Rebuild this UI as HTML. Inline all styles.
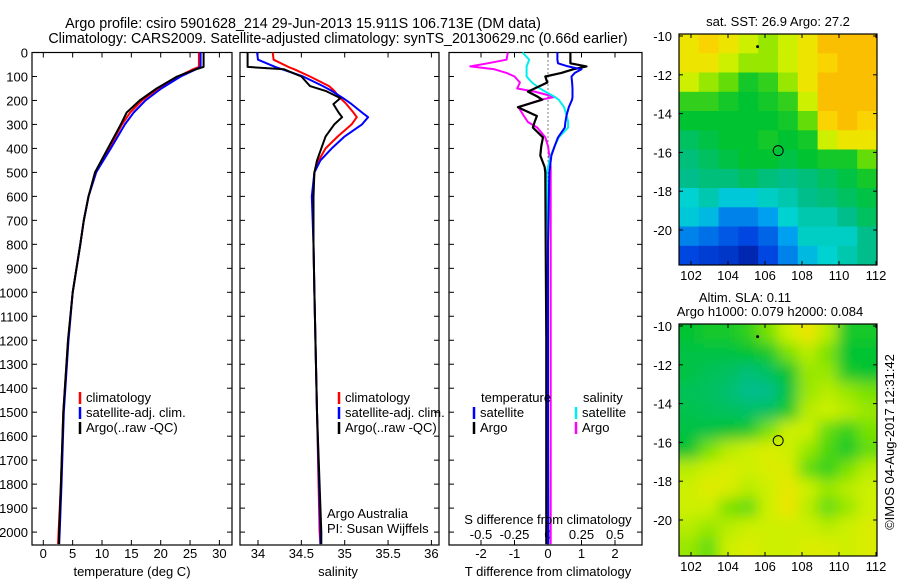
<!DOCTYPE html>
<html><head><meta charset="utf-8"><style>
body{margin:0;background:#fff;}
svg{display:block;font-family:"Liberation Sans",sans-serif;}
text{font-size:13px;fill:#000;}
</style></head><body>
<svg id="c" width="900" height="580">
<defs>
<clipPath id="clipA"><rect x="679" y="34" width="198" height="231"/></clipPath>
<clipPath id="clipB"><rect x="679" y="324" width="198" height="232"/></clipPath>
<filter id="blur"><feGaussianBlur stdDeviation="7"/></filter>
</defs>
<g>
<text x="303" y="28" text-anchor="middle" style="font-size:14.3px">Argo profile: csiro 5901628_214 29-Jun-2013 15.911S 106.713E (DM data)</text>
<text x="338" y="43" text-anchor="middle" style="font-size:14.3px">Climatology: CARS2009. Satellite-adjusted climatology: synTS_20130629.nc (0.66d earlier)</text>
</g>
</svg>
<script>
const depthT=[0,60,70,100,150,200,250,300,400,500,600,700,800,1000,1200,1500,1800,2000,2050];
const tempClim=[26.5,26.5,25.5,23.0,19.6,16.8,14.8,13.4,11.2,9.0,7.7,6.9,6.3,5.0,4.2,3.4,3.0,2.6,2.5];
const tempSat=[26.8,26.8,26.0,23.4,20.1,17.4,15.4,13.9,11.5,9.0,7.7,6.9,6.3,5.0,4.3,3.5,3.1,2.8,2.7];
const tempArgo=[27.3,27.3,26.0,22.8,19.3,16.4,14.2,13.2,11.0,8.8,7.7,6.9,6.3,5.0,4.2,3.4,3.0,2.7,2.7];
const depthS=[0,30,60,70,100,140,160,190,215,250,270,300,350,400,450,500,600,800,1000,1500,2000,2050];
const salClim=[34.17,34.18,34.35,34.42,34.6,34.82,34.88,34.95,35.02,35.1,35.14,35.08,34.92,34.78,34.7,34.65,34.63,34.64,34.65,34.68,34.71,34.72];
const salSat=[33.99,34.0,34.2,34.28,34.52,34.75,34.85,34.98,35.08,35.2,35.27,35.2,35.0,34.85,34.72,34.65,34.62,34.64,34.65,34.68,34.72,34.72];
const salArgo=[33.88,33.88,33.88,34.3,34.5,34.6,34.78,34.95,34.87,34.93,34.97,34.88,34.78,34.73,34.68,34.65,34.64,34.64,34.65,34.68,34.73,34.73];
const depthD=[0,30,45,58,70,85,100,125,150,163,185,197,228,265,290,313,354,390,430,477,500,800,1200,1600,2000,2050];
const dTsat=[0.28,0.28,0.3,0.6,1.0,0.8,0.7,0.72,0.73,0.73,0.73,0.72,0.62,0.55,0.52,0.5,0.3,0.2,0.1,0.06,0.04,0.0,0.0,0.0,0.01,0.01];
const dTargo=[0.67,0.67,0.67,1.15,0.75,0.4,-0.08,-0.02,-0.4,-0.6,-0.3,-0.17,-0.9,-0.33,-0.4,-0.45,-0.15,-0.2,-0.23,-0.1,-0.08,-0.07,-0.05,-0.05,-0.05,-0.05];
const dSsat=[-0.19,-0.14,-0.15,-0.16,-0.16,-0.16,-0.16,-0.12,-0.06,-0.02,0.05,0.08,0.12,0.14,0.15,0.15,0.08,0.05,0.02,0.0,-0.01,0.0,0.0,0.0,0.0,0.0];
const dSargo=[-0.30,-0.31,-0.45,-0.58,-0.4,-0.31,-0.25,-0.21,-0.23,-0.1,0.05,-0.05,-0.22,-0.18,-0.15,-0.08,-0.02,0.0,0.01,0.02,0.02,0.02,0.02,0.02,0.02,0.02];
const depthTicks=[0,100,200,300,400,500,600,700,800,900,1000,1100,1200,1300,1400,1500,1600,1700,1800,1900,2000];
const tTicks=[0,5,10,15,20,25,30];
const sTicks=[34,34.5,35,35.5,36];
const dTTicks=[-2,-1,0,1,2];
const dSTicks=[-0.5,-0.25,0,0.25,0.5];
const lonTicks=[102,104,106,108,110,112];
const latTicks=[-10,-12,-14,-16,-18,-20];
const sstGrid=[
[0.85,0.9,0.85,0.8,0.75,0.8,0.85,0.95,0.95,0.95],
[0.85,0.85,0.8,0.75,0.75,0.8,0.85,0.9,0.95,0.95],
[0.8,0.75,0.7,0.62,0.65,0.75,0.85,0.95,0.95,0.95],
[0.65,0.65,0.62,0.6,0.62,0.65,0.8,0.95,0.95,0.95],
[0.6,0.6,0.6,0.6,0.6,0.62,0.7,0.9,0.95,0.9],
[0.55,0.58,0.6,0.6,0.62,0.6,0.62,0.8,0.85,0.85],
[0.52,0.55,0.58,0.6,0.6,0.58,0.6,0.62,0.62,0.7],
[0.5,0.52,0.52,0.55,0.52,0.5,0.52,0.55,0.58,0.62],
[0.4,0.45,0.38,0.38,0.42,0.45,0.5,0.52,0.55,0.58],
[0.38,0.35,0.25,0.25,0.3,0.4,0.45,0.45,0.5,0.55],
[0.25,0.22,0.18,0.15,0.2,0.3,0.42,0.42,0.42,0.5],
[0.15,0.12,0.1,0.05,0.15,0.25,0.35,0.4,0.45,0.5]];
const slaGrid=[
[0.6,0.62,0.62,0.65,0.72,0.8,0.85,0.78,0.62,0.62],
[0.58,0.58,0.58,0.6,0.62,0.72,0.78,0.72,0.6,0.6],
[0.58,0.56,0.55,0.52,0.55,0.6,0.75,0.75,0.62,0.6],
[0.56,0.55,0.53,0.5,0.5,0.58,0.75,0.78,0.75,0.72],
[0.57,0.56,0.55,0.54,0.55,0.62,0.78,0.8,0.78,0.75],
[0.58,0.58,0.6,0.62,0.72,0.8,0.8,0.7,0.65,0.72],
[0.6,0.72,0.78,0.8,0.82,0.8,0.75,0.68,0.62,0.7],
[0.78,0.8,0.82,0.8,0.82,0.82,0.7,0.65,0.72,0.78],
[0.8,0.83,0.82,0.78,0.8,0.84,0.8,0.75,0.78,0.8],
[0.8,0.8,0.72,0.7,0.8,0.85,0.78,0.7,0.75,0.8],
[0.78,0.75,0.78,0.8,0.8,0.8,0.8,0.78,0.8,0.82],
[0.75,0.7,0.8,0.82,0.8,0.8,0.82,0.82,0.8,0.82]];
const floatLon=106.713, floatLat=-15.911;

const svg=document.getElementById('c');
const NS='http://www.w3.org/2000/svg';
function mk(tag,attrs,parent){const e=document.createElementNS(NS,tag);for(const k in attrs)e.setAttribute(k,attrs[k]);(parent||svg).appendChild(e);return e;}
function txt(x,y,s,anchor,parent,extra){const t=mk('text',Object.assign({x:x,y:y,'text-anchor':anchor||'middle'},extra||{}),parent);t.textContent=s;return t;}
const yD=d=>52.5+d*0.2398;
const plotTop=52.5,bot=545;
const xT=v=>43.3+v*5.87;
const xS=v=>258+(v-34)*86.7;
const xDT=v=>548+v*33.5;
const xDS=v=>548+v*134;

function frame(x0,x1,name){
  const r=mk('rect',{x:x0,y:plotTop,width:x1-x0,height:bot-plotTop,fill:'none',stroke:'#000','stroke-width':1.2});
  
  
  const g=mk('g',{});
  depthTicks.forEach(d=>{mk('line',{x1:x0,x2:x0+5,y1:yD(d),y2:yD(d),stroke:'#000'},g);mk('line',{x1:x1,x2:x1-5,y1:yD(d),y2:yD(d),stroke:'#000'},g);});
  return g;
}
function line(xs,ds,xf,color,name,w,dash){
  const pts=ds.map((d,i)=>xf(xs[i]).toFixed(1)+','+yD(d).toFixed(1)).join(' ');
  const p=mk('polyline',{points:pts,fill:'none',stroke:color,'stroke-width':w||2,'stroke-linejoin':'round'});
  if(dash)p.setAttribute('stroke-dasharray',dash);
  
  
}
function xticks(ticks,xf,y){
  ticks.forEach(v=>{mk('line',{x1:xf(v),x2:xf(v),y1:bot,y2:bot-5,stroke:'#000'});mk('line',{x1:xf(v),x2:xf(v),y1:plotTop,y2:plotTop+5,stroke:'#000'});
    const t=txt(xf(v),y,String(v));
    
    });
}
function legend(x,y,items){
  items.forEach((it,i)=>{mk('line',{x1:x,x2:x,y1:y+i*15-10,y2:y+i*15+2,stroke:it[0],'stroke-width':2.5});
    const t=txt(x+6,y+i*15,it[1],'start');
    
    });
}
// Panel 1 temperature
frame(32,232,'temperature-axes-frame');
depthTicks.forEach(d=>{const t=txt(28,yD(d)+5,String(d),'end');
  
  });
xticks(tTicks,xT,558);
line(tempClim,depthT,xT,'#f00','temperature-climatology-line');
line(tempSat,depthT,xT,'#00f','temperature-satellite-line');
line(tempArgo,depthT,xT,'#000','temperature-argo-line');
txt(132,576,'temperature (deg C)');
legend(80,402,[['#f00','climatology'],['#00f','satellite-adj. clim.'],['#000','Argo(..raw -QC)']]);
// Panel 2 salinity
frame(240,439,'salinity-axes-frame');
xticks(sTicks,xS,558);
line(salClim,depthS,xS,'#f00','salinity-climatology-line');
line(salSat,depthS,xS,'#00f','salinity-satellite-line');
line(salArgo,depthS,xS,'#000','salinity-argo-line');
txt(338,576,'salinity');
legend(339,402,[['#f00','climatology'],['#00f','satellite-adj. clim.'],['#000','Argo(..raw -QC)']]);
txt(327,518,'Argo Australia','start');
txt(327,533,'PI: Susan Wijffels','start');
// Panel 3 differences
frame(449,642,'difference-axes-frame');
mk('line',{x1:548,x2:548,y1:plotTop,y2:bot,stroke:'#000','stroke-dasharray':'1,3'});
xticks(dTTicks,xDT,558);
dSTicks.forEach(v=>{const t=txt(xDS(v),539,String(v));
  
  });
line(dSargo,depthD,xDS,'#f0f','s-diff-argo-line');
line(dSsat,depthD,xDS,'#0ee','s-diff-satellite-line');
line(dTargo,depthD,xDT,'#000','t-diff-argo-line',2.2);
line(dTsat,depthD,xDT,'#00f','t-diff-satellite-line');
txt(548,524,'S difference from climatology');
txt(548,576,'T difference from climatology');
txt(481,402,'temperature','start');txt(583,402,'salinity','start');
legend(474,417,[['#00f','satellite'],['#000','Argo']]);
legend(576,417,[['#0ee','satellite'],['#f0f','Argo']]);
// Maps
function cmap(v){const st=[[0,[0,24,150]],[0.15,[0,70,225]],[0.3,[0,160,240]],[0.4,[0,210,210]],[0.5,[0,190,140]],[0.6,[0,195,50]],[0.72,[120,225,0]],[0.8,[205,240,0]],[0.87,[250,225,0]],[1,[250,170,0]]];
  for(let i=1;i<st.length;i++){if(v<=st[i][0]){const a=st[i-1],b=st[i],f=(v-a[0])/(b[0]-a[0]);return 'rgb('+a[1].map((c,k)=>Math.round(c+(b[1][k]-c)*f)).join(',')+')';}}return 'rgb(250,170,0)';}
function drawMap(grid,y0,h,clip,name,blur){
  const xl=v=>691+(v-102)*18.5;
  const yl=v=>y0+2+(-10-v)*19.4;
  const g=mk('g',{'clip-path':'url(#'+clip+')'});
  
  
  const inner=mk('g',blur?{filter:'url(#blur)'}:{},g);
  const nr=grid.length,nc=grid[0].length,cw=198/nc,ch=h/nr;
  if(blur)mk('rect',{x:660,y:y0-20,width:240,height:h+40,fill:cmap(0.75)},inner);
  grid.forEach((row,r)=>row.forEach((v,c)=>{
    const cell=mk('rect',{x:(679+c*cw-(blur&&c==0?20:0)).toFixed(1),y:(y0+r*ch-(blur&&r==0?20:0)).toFixed(1),width:(cw+0.6+(blur&&(c==0||c==nc-1)?20:0)).toFixed(1),height:(ch+0.6+(blur&&(r==0||r==nr-1)?20:0)).toFixed(1),fill:cmap(v)},inner);
    
    }));
  mk('rect',{x:679,y:y0,width:198,height:h,fill:'none',stroke:'#000','stroke-width':1.2});
  lonTicks.forEach(v=>{mk('line',{x1:xl(v),x2:xl(v),y1:y0+h,y2:y0+h-4,stroke:'#000'});mk('line',{x1:xl(v),x2:xl(v),y1:y0,y2:y0+4,stroke:'#000'});txt(xl(v),y0+h+15,String(v));});
  latTicks.forEach(v=>{mk('line',{x1:679,x2:683,y1:yl(v),y2:yl(v),stroke:'#000'});mk('line',{x1:877,x2:873,y1:yl(v),y2:yl(v),stroke:'#000'});txt(672,yl(v)+5,String(v),'end');});
  const m=mk('circle',{cx:xl(floatLon),cy:yl(floatLat),r:5,fill:'none',stroke:'#000','stroke-width':1});
  
  
  mk('circle',{cx:xl(105.6),cy:yl(-10.55),r:1.5,fill:'#000'});
}
drawMap(sstGrid,34,231,'clipA','sst-map',false);
drawMap(slaGrid,324,232,'clipB','sla-map',true);
txt(778,26,'sat. SST: 26.9 Argo: 27.2');
txt(745,302,'Altim. SLA: 0.11');
txt(770,316,'Argo h1000: 0.079 h2000: 0.084');
txt(0,0,'©IMOS 04-Aug-2017 12:31:42','middle',null,{transform:'translate(894,442) rotate(-90)'});
</script>
</body></html>
